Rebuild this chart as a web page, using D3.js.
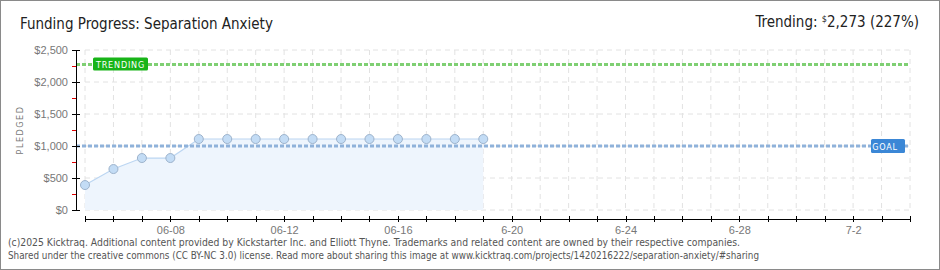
<!DOCTYPE html>
<html lang="en">
<head>
<meta charset="utf-8">
<title>Funding Progress</title>
<script src="https://cdn.jsdelivr.net/npm/d3@7"></script>
<style>
body { margin: 0; background: #fff; }
svg { display: block; font-family: "DejaVu Sans Condensed", "DejaVu Sans", sans-serif; }
.grid line { stroke: #e2e2e2; stroke-dasharray: 5,4; }
.axis path, .axis line { stroke: #000; shape-rendering: crispEdges; }
.axis text { fill: #777; font-size: 11px; }
</style>
</head>
<body>
<script>
var dates = ["06-05","06-06","06-07","06-08","06-09","06-10","06-11","06-12","06-13","06-14","06-15","06-16","06-17","06-18","06-19"];
var pledged = [390, 640, 812, 812, 1109, 1109, 1109, 1109, 1109, 1109, 1109, 1109, 1109, 1109, 1109];
var goal = 1000;
var trending = 2273;
var startDate = "2025-06-05", endDate = "2025-07-04";
var tickLabels = {"06-08": "06-08", "06-12": "06-12", "06-16": "06-16", "06-20": "6-20", "06-24": "6-24", "06-28": "6-28", "07-02": "7-2"};

var w = 940, h = 270;
var parse = d3.timeParse("%Y-%m-%d");
var fmtMD = d3.timeFormat("%m-%d");

var svg = d3.select("body").append("svg").attr("width", w).attr("height", h);

svg.append("rect").attr("x", 0.5).attr("y", 0.5).attr("width", w - 1).attr("height", h - 1)
  .attr("fill", "#fff").attr("stroke", "#8a8a8a");

var x = d3.scaleTime().domain([parse(startDate), parse(endDate)]).range([85, 910]);
var y = d3.scaleLinear().domain([0, 2500]).range([210, 50]);

var days = d3.timeDay.range(parse(startDate), d3.timeDay.offset(parse(endDate), 1));
var pts = dates.map(function (d, i) { return { date: parse("2025-" + d), v: pledged[i] }; });

// grid
var grid = svg.append("g").attr("class", "grid");
grid.selectAll(".v").data(days).enter().append("line")
  .attr("x1", function (d) { return x(d); }).attr("x2", function (d) { return x(d); })
  .attr("y1", y(2500)).attr("y2", y(0));
grid.selectAll(".h").data(d3.range(0, 2501, 500)).enter().append("line")
  .attr("x1", x.range()[0]).attr("x2", x.range()[1])
  .attr("y1", function (d) { return y(d); }).attr("y2", function (d) { return y(d); });

// area + line
svg.append("path").datum(pts)
  .attr("fill", "#eef5fd")
  .attr("d", d3.area().x(function (d) { return x(d.date); }).y0(y(0)).y1(function (d) { return y(d.v); }));
svg.append("path").datum(pts)
  .attr("fill", "none").attr("stroke", "#bcd6f2").attr("stroke-width", 1.2)
  .attr("d", d3.line().x(function (d) { return x(d.date); }).y(function (d) { return y(d.v); }));

// goal and trending lines
svg.append("line").attr("x1", 76).attr("x2", 910).attr("y1", y(trending)).attr("y2", y(trending))
  .attr("stroke", "#7fcf73").attr("stroke-width", 3).attr("stroke-dasharray", "4,2");
svg.append("line").attr("x1", 76).attr("x2", 910).attr("y1", y(goal)).attr("y2", y(goal))
  .attr("stroke", "#8fb2da").attr("stroke-width", 3).attr("stroke-dasharray", "4,2");

svg.append("rect").attr("x", 93).attr("y", y(trending) - 7).attr("width", 55).attr("height", 13)
  .attr("rx", 1.5).attr("fill", "#18b418");
svg.append("text").attr("x", 120.5).attr("y", y(trending) + 3.5).attr("text-anchor", "middle")
  .attr("fill", "#fff").attr("font-size", 9).attr("letter-spacing", 0.8).text("TRENDING");

svg.append("rect").attr("x", 871).attr("y", y(goal) - 7).attr("width", 34).attr("height", 14)
  .attr("rx", 1.5).attr("fill", "#3b87d6");
svg.append("text").attr("x", 885).attr("y", y(goal) + 3.5).attr("text-anchor", "middle")
  .attr("fill", "#fff").attr("font-size", 9).attr("letter-spacing", 0.8).text("GOAL");

// points
svg.selectAll(".pt").data(pts).enter().append("circle")
  .attr("cx", function (d) { return x(d.date); }).attr("cy", function (d) { return y(d.v); })
  .attr("r", 4.5).attr("fill", "#c3dcf5").attr("stroke", "#9db3cc").attr("stroke-width", 1);

// y axis
var yAxis = svg.append("g").attr("class", "axis").attr("transform", "translate(76,0)")
  .call(d3.axisLeft(y).tickValues(d3.range(0, 2501, 500)).tickSize(4)
    .tickFormat(function (d) { return "$" + d3.format(",")(d); }));
yAxis.select(".domain").attr("d", "M0.5," + y(2500) + "V" + y(0));
yAxis.selectAll(".tick line").attr("x1", 4).attr("x2", -4);
yAxis.selectAll(".tick text").attr("x", -8);
svg.append("g").selectAll("line").data(d3.range(250, 2500, 500)).enter().append("line")
  .attr("x1", 72).attr("x2", 76).attr("y1", function (d) { return Math.round(y(d)) + 0.5; })
  .attr("y2", function (d) { return Math.round(y(d)) + 0.5; }).attr("stroke", "#e00000");

svg.append("text").attr("transform", "translate(23,130) rotate(-90)").attr("text-anchor", "middle")
  .attr("fill", "#777").attr("font-size", 9).attr("letter-spacing", 1.5).text("PLEDGED");

// x axis
var xAxis = svg.append("g").attr("class", "axis").attr("transform", "translate(0,219)")
  .call(d3.axisBottom(x).tickValues(days).tickSize(3)
    .tickFormat(function (d) { return tickLabels[fmtMD(d)] || ""; }));
xAxis.select(".domain").attr("d", "M" + x.range()[0] + ",0.5H" + x.range()[1]);
xAxis.selectAll(".tick line").attr("y1", -3).attr("y2", 3);
xAxis.selectAll(".tick text").attr("y", 7).attr("font-size", 10);

// titles
svg.append("text").attr("x", 20).attr("y", 29).attr("font-size", 15).attr("fill", "#222")
  .text("Funding Progress: Separation Anxiety");
var tr = svg.append("text").attr("x", 919).attr("y", 27).attr("text-anchor", "end")
  .attr("font-size", 15).attr("fill", "#222");
tr.append("tspan").text("Trending:  ");
tr.append("tspan").attr("font-size", 9).attr("dy", -5).text("$");
tr.append("tspan").attr("dy", 5).text(d3.format(",")(trending) + " (" + Math.round(trending / goal * 100) + "%)");

// footer
svg.append("text").attr("x", 8).attr("y", 246).attr("font-size", 10).attr("fill", "#555")
  .attr("textLength", 732).attr("lengthAdjust", "spacingAndGlyphs")
  .text("(c)2025 Kicktraq. Additional content provided by Kickstarter Inc. and Elliott Thyne. Trademarks and related content are owned by their respective companies.");
svg.append("text").attr("x", 8).attr("y", 259).attr("font-size", 10).attr("fill", "#555")
  .attr("textLength", 751).attr("lengthAdjust", "spacingAndGlyphs")
  .text("Shared under the creative commons (CC BY-NC 3.0) license. Read more about sharing this image at www.kicktraq.com/projects/1420216222/separation-anxiety/#sharing");
</script>
</body>
</html>
